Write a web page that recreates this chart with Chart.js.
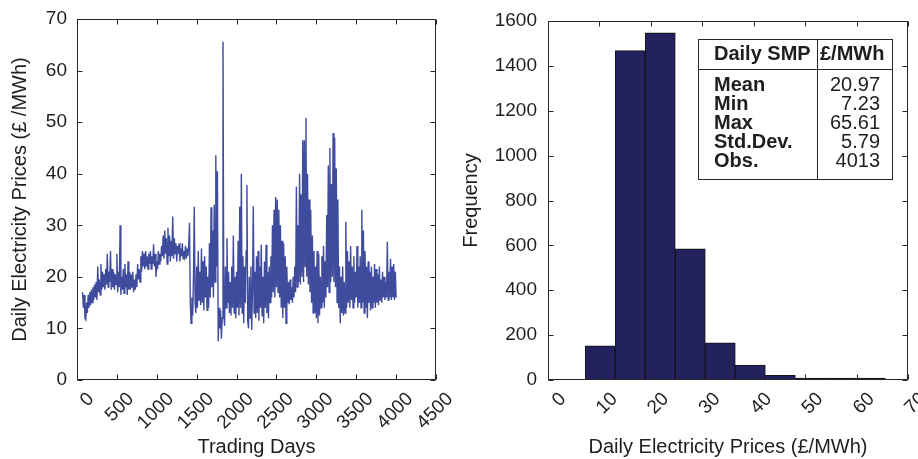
<!DOCTYPE html>
<html>
<head>
<meta charset="utf-8">
<script src="https://cdn.jsdelivr.net/npm/chart.js@4.4.1/dist/chart.umd.min.js"></script>
<style>
  html, body { margin: 0; padding: 0; background: #fff; }
  #wrap { position: relative; width: 918px; height: 459px; }
  canvas { position: absolute; top: 0; }
</style>
</head>
<body>
<div id="wrap">
  <canvas id="priceChart" width="459" height="459" style="left:0"></canvas>
  <canvas id="histChart" width="459" height="459" style="left:459px"></canvas>
</div>
<script>
// daily SMP (one reading every 10 trading days)
const firstDay = 70;
const dayStep = 10;
const dailyPrices = [
  17, 14, 16.5, 12, 11.7, 15, 13, 16.5, 14, 17,
  14.5, 17.5, 15, 18, 15.5, 18.5, 16, 19, 15.5, 22,
  17, 19.5, 16.5, 22.5, 17.5, 21, 18, 20.5, 17.5, 21.5,
  18.5, 24.5, 18, 21, 19, 25, 17.5, 21.5, 18, 21,
  17.5, 20.5, 18.5, 24.5, 17, 21, 18, 30, 16.5, 20,
  17.5, 21.5, 16.8, 22.5, 18, 20.5, 16.5, 23, 17.5, 21,
  17.5, 20.5, 18, 21, 17, 19.5, 17.5, 20.5, 18, 22.5,
  19.5, 21.5, 19, 24, 21, 25, 22, 24.5, 21.5, 25,
  22, 24, 21.5, 24.5, 22.5, 25, 21.5, 24, 22.5, 26.3,
  22, 24.5, 20, 23, 21.5, 25, 22.5, 24.5, 23, 26,
  24, 28, 23.5, 29, 24.5, 27.5, 22.5, 29.5, 24, 28,
  23, 27, 24, 31.7, 23.5, 27.5, 24.5, 26.5, 23, 26,
  24.5, 26.5, 23, 25.5, 24, 26.5, 23.5, 25, 24, 26,
  23.5, 25.5, 24, 26, 30.5, 15, 11, 16, 12.5, 20,
  33.6, 15, 13, 22, 14, 25, 15.5, 21, 14.5, 25.5,
  15, 23, 13.5, 24, 16, 22, 13.5, 20, 14, 26.5,
  16, 33.5, 18, 29, 16, 34, 19, 43.6, 22, 40.5,
  7.5, 14, 10, 13.5, 8, 12, 65.6, 13, 10.5, 22,
  14, 27.5, 15, 21, 13, 19, 12.5, 22, 14, 28,
  13, 20, 12, 21, 14, 27, 12.5, 33.6, 14, 40,
  13, 24, 11, 22, 15, 25, 37.8, 11.5, 10, 20,
  12, 22, 9.7, 18, 33.7, 13, 21, 12, 24, 13,
  25, 11.5, 22, 14, 26.2, 12.5, 20, 11, 23, 14,
  26.2, 13, 21, 12, 22, 15, 24, 16, 30, 17,
  33, 16, 35.5, 18, 35, 17, 33, 16, 30, 14,
  27, 12, 26.5, 14, 24, 11, 22, 15, 19, 14.7,
  19.5, 15.5, 18, 15, 20, 16, 22, 17, 37.5, 18,
  30, 19, 40, 18.5, 36, 20, 46.5, 19, 46.5, 22,
  50.8, 20, 40, 18.5, 35, 17, 33, 15, 28, 13,
  25, 13, 22, 12, 25, 11, 24.5, 12.5, 20, 14,
  24, 15, 26, 14, 23, 16, 32, 18, 41.6, 17,
  45, 19, 38, 20, 47.9, 19, 47, 18, 41, 15,
  35, 14, 22, 11, 20, 13, 22, 12.5, 19, 13,
  30.7, 14, 25, 15, 23, 14, 26, 15.5, 22, 14,
  24, 15, 21, 16, 26, 14, 22, 15, 24, 14,
  33, 15, 29, 13, 25, 14, 22, 12, 23, 15,
  21, 13.5, 22, 14, 20, 15, 22.5, 14, 21.5, 15,
  20.5, 14.5, 22, 15.5, 19.5, 15, 21, 16, 20, 15.5,
  19, 16, 26.8, 15.5, 21, 16, 23.5, 15.5, 22, 16,
  22.5, 15.5, 21, 16
];

// histogram (10 bins between min and max)
const binCenters = [10.15, 15.99, 21.83, 27.67, 33.50, 39.34, 45.18, 51.02, 56.86, 62.69];
const binCounts = [152, 1468, 1547, 585, 166, 67, 21, 3, 2, 2];

// summary table
const statNames = ['Mean', 'Min', 'Max', 'Std.Dev.', 'Obs.'];
const statValues = ['20.97', '7.23', '65.61', '5.79', '4013'];

const FONT = "'Liberation Sans', Arial, Helvetica, sans-serif";
const TEXT = '#1e1e1e';

// matlab style box with inward ticks on all four sides
const boxPlugin = {
  id: 'matlabBox',
  afterDatasetsDraw(chart) {
    const { ctx, chartArea: a, scales } = chart;
    const x = scales.x, y = scales.y;
    const L = Math.round(a.left) + 0.5, R = Math.round(a.right) - 0.5;
    const T = Math.round(a.top) + 0.5, B = Math.round(a.bottom) - 0.5;
    const len = 5;
    ctx.save();
    ctx.strokeStyle = '#262626';
    ctx.lineWidth = 1;
    ctx.strokeRect(L, T, R - L, B - T);
    ctx.beginPath();
    x.ticks.forEach(t => {
      const px = Math.round(x.getPixelForValue(t.value)) + 0.5;
      ctx.moveTo(px, B); ctx.lineTo(px, B - len);
      ctx.moveTo(px, T); ctx.lineTo(px, T + len);
    });
    y.ticks.forEach(t => {
      const py = Math.round(y.getPixelForValue(t.value)) + 0.5;
      ctx.moveTo(L, py); ctx.lineTo(L + len, py);
      ctx.moveTo(R, py); ctx.lineTo(R - len, py);
    });
    ctx.stroke();
    ctx.restore();
  }
};

const tablePlugin = {
  id: 'statsTable',
  afterDraw(chart) {
    const ctx = chart.ctx;
    const left = 239.5, top = 39.5, right = 433.5, bottom = 179.5;
    const split = 358.5, headLine = 69.5;
    ctx.save();
    ctx.fillStyle = '#fff';
    ctx.fillRect(left, top, right - left, bottom - top);
    ctx.strokeStyle = '#262626';
    ctx.lineWidth = 1;
    ctx.strokeRect(left, top, right - left, bottom - top);
    ctx.beginPath();
    ctx.moveTo(split, top); ctx.lineTo(split, bottom);
    ctx.moveTo(left, headLine); ctx.lineTo(right, headLine);
    ctx.stroke();

    ctx.fillStyle = TEXT;
    ctx.textBaseline = 'middle';
    ctx.font = 'bold 20px ' + FONT;
    ctx.textAlign = 'left';
    ctx.fillText('Daily SMP', 255, 54);
    ctx.fillText('£/MWh', 361, 54);
    statNames.forEach((name, i) => {
      ctx.font = 'bold 20px ' + FONT;
      ctx.textAlign = 'left';
      ctx.fillText(name, 255, 85 + i * 19.1);
      ctx.font = '20px ' + FONT;
      ctx.textAlign = 'right';
      ctx.fillText(statValues[i], 421, 85 + i * 19.1);
    });
    ctx.restore();
  }
};

const plainNumber = v => String(v);

function xAxis(min, max, step, height, labelOffset, titleText) {
  return {
    type: 'linear', min: min, max: max, offset: false,
    grid: { display: false }, border: { display: false },
    ticks: {
      stepSize: step, autoSkip: false, minRotation: 45, maxRotation: 45,
      padding: 0, labelOffset: labelOffset, color: TEXT, callback: plainNumber,
      font: { family: FONT, size: 19 }
    },
    title: {
      display: true, text: titleText, color: TEXT, padding: 0,
      font: { family: FONT, size: 20, lineHeight: 1.2 }
    },
    afterFit(s) { s.height = height; s.paddingLeft = 0; s.paddingRight = 0; }
  };
}

function yAxis(min, max, step, width, tickPad, titlePad, titleText) {
  return {
    min: min, max: max,
    grid: { display: false }, border: { display: false },
    ticks: { stepSize: step, padding: tickPad, color: TEXT, callback: plainNumber, font: { family: FONT, size: 19 } },
    title: {
      display: true, text: titleText, color: TEXT, padding: { top: titlePad, bottom: 0 },
      font: { family: FONT, size: 20, lineHeight: 1.2 }
    },
    afterFit(s) { s.width = width; s.paddingTop = 0; s.paddingBottom = 0; }
  };
}

const common = {
  responsive: false,
  animation: false,
  plugins: { legend: { display: false }, tooltip: { enabled: false } }
};

new Chart(document.getElementById('priceChart'), {
  type: 'line',
  data: {
    datasets: [{
      data: dailyPrices.map((p, i) => ({ x: firstDay + i * dayStep, y: p })),
      borderColor: '#3f4b9d',
      borderWidth: 1.4,
      pointRadius: 0,
      tension: 0
    }]
  },
  options: Object.assign({}, common, {
    layout: { padding: { top: 19, right: 23, left: 0, bottom: 0 } },
    scales: {
      x: xAxis(0, 4500, 500, 79, 14, 'Trading Days'),
      y: yAxis(0, 70, 10, 77, 2, 8, 'Daily Electricity Prices (£ /MWh)')
    }
  }),
  plugins: [boxPlugin]
});

new Chart(document.getElementById('histChart'), {
  type: 'bar',
  data: {
    datasets: [{
      data: binCenters.map((c, i) => ({ x: c, y: binCounts[i] })),
      backgroundColor: '#24215f',
      borderColor: '#141414',
      borderWidth: 1,
      minBarLength: 2,
      barPercentage: 1,
      categoryPercentage: 1
    }]
  },
  options: Object.assign({}, common, {
    layout: { padding: { top: 21, right: 10, left: 0, bottom: 0 } },
    scales: {
      x: xAxis(0, 70, 10, 79, 15, 'Daily Electricity Prices (£/MWh)'),
      y: yAxis(0, 1600, 200, 89, 3, 0, 'Frequency')
    }
  }),
  plugins: [boxPlugin, tablePlugin]
});
</script>
</body>
</html>
